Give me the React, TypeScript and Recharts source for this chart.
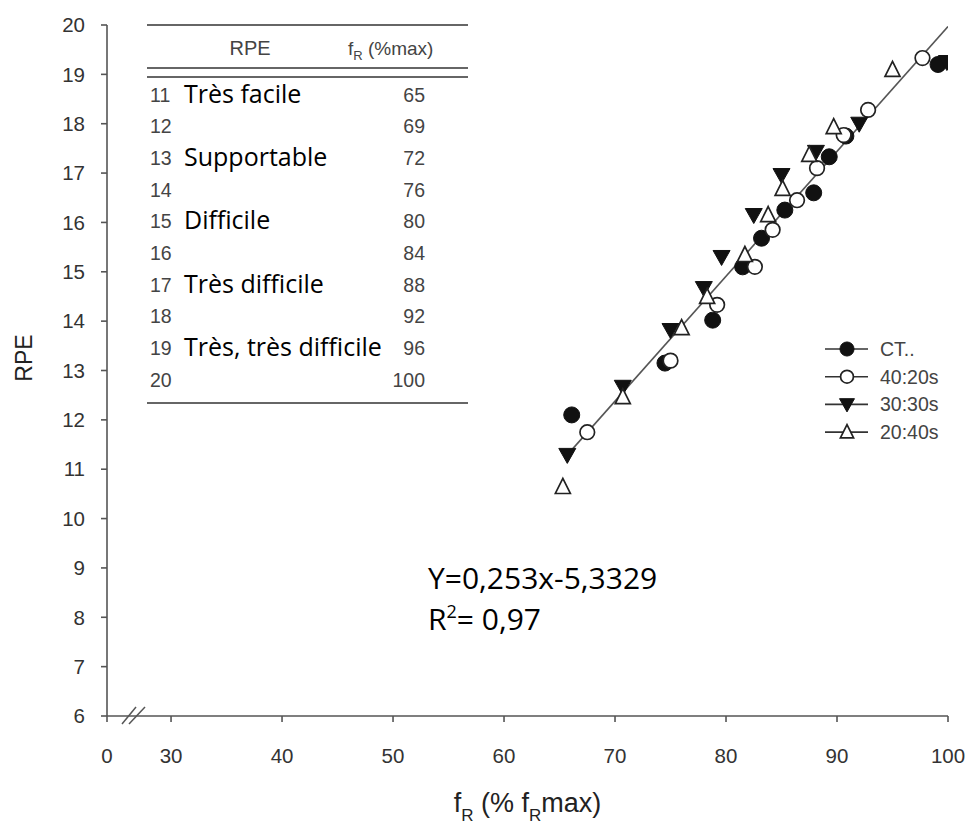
import React from 'react';
import { ScatterChart, Scatter, XAxis, YAxis, Legend } from 'recharts';

// ---- data ----
const seriesNames = ['CT..', '40:20s', '30:30s', '20:40s'];

const ctX = [66.1, 74.5, 78.8, 81.5, 83.2, 85.3, 87.9, 89.3, 90.8, 99.1];
const ctY = [12.1, 13.15, 14.02, 15.1, 15.68, 16.25, 16.6, 17.33, 17.75, 19.2];

const s4020X = [67.5, 75.0, 79.2, 82.6, 84.2, 86.4, 88.2, 90.6, 92.8, 97.7];
const s4020Y = [11.75, 13.2, 14.33, 15.1, 15.85, 16.45, 17.1, 17.77, 18.28, 19.33];

const s3030X = [65.7, 70.7, 75.0, 78.0, 79.6, 82.5, 85.0, 88.1, 92.0, 99.9];
const s3030Y = [11.29, 12.67, 13.82, 14.67, 15.3, 16.15, 16.96, 17.43, 18.0, 19.25];

const s2040X = [65.3, 70.7, 76.0, 78.3, 81.7, 83.8, 85.1, 87.5, 89.7, 95.0];
const s2040Y = [10.64, 12.46, 13.86, 14.49, 15.34, 16.15, 16.68, 17.37, 17.93, 19.09];

const regressionX = [65.5, 100];
const regressionY = [11.24, 19.97];

const xAxisStart = 24.23; // broken-axis origin, labelled "0"
const xTicks = [xAxisStart, 30, 40, 50, 60, 70, 80, 90, 100];
const yTicks = [6, 7, 8, 9, 10, 11, 12, 13, 14, 15, 16, 17, 18, 19, 20];

const tableRpe = [11, 12, 13, 14, 15, 16, 17, 18, 19, 20];
const tableLabels = ['Très facile', '', 'Supportable', '', 'Difficile', '', 'Très difficile', '', 'Très, très difficile', ''];
const tableFr = [65, 69, 72, 76, 80, 84, 88, 92, 96, 100];

const equationText = 'Y=0,253x-5,3329';
const r2Value = '= 0,97';

// ---- helpers ----
const toPoints = (xs: number[], ys: number[]) => xs.map((x, i) => ({ x, y: ys[i] }));

const ctData = toPoints(ctX, ctY);
const s4020Data = toPoints(s4020X, s4020Y);
const s3030Data = toPoints(s3030X, s3030Y);
const s2040Data = toPoints(s2040X, s2040Y);
const regressionData = toPoints(regressionX, regressionY);

const ARIAL = '"Liberation Sans", Arial, sans-serif';
const CAL = '"Open Sans", sans-serif';
const INK = '#111';

const drawMarker = (kind: number, cx: number, cy: number, s = 1) => {
  if (kind === 0) return <circle cx={cx} cy={cy} r={8 * s} fill={INK} stroke={INK} strokeWidth={1} />;
  if (kind === 1) return <circle cx={cx} cy={cy} r={7.3 * s} fill="#fff" stroke="#222" strokeWidth={1.7} />;
  if (kind === 2) {
    const w = 8.5 * s, h1 = 6.5 * s, h2 = 8.5 * s;
    return <path d={`M${cx - w},${cy - h1} L${cx + w},${cy - h1} L${cx},${cy + h2} Z`} fill={INK} stroke={INK} strokeWidth={1} />;
  }
  const w = 7.5 * s, h1 = 8.5 * s, h2 = 6.5 * s;
  return <path d={`M${cx},${cy - h1} L${cx + w},${cy + h2} L${cx - w},${cy + h2} Z`} fill="#fff" stroke="#222" strokeWidth={1.7} />;
};

const shapeFor = (kind: number) => (p: any) => drawMarker(kind, p.cx, p.cy);

const XTick = (props: any) => {
  const { x, y, payload } = props;
  const isOrigin = payload.value < 30;
  const axisY = y - 32;
  return (
    <g>
      <text x={x} y={y} dy="0.71em" textAnchor="middle" fontSize={20.5} fill="#333" fontFamily={ARIAL}>
        {isOrigin ? '0' : String(payload.value)}
      </text>
      {isOrigin && (
        <g stroke="#555" strokeWidth={1.5}>
          <line x1={x + 15} y1={axisY + 8} x2={x + 29} y2={axisY - 9} />
          <line x1={x + 22} y1={axisY + 8} x2={x + 38} y2={axisY - 9} />
        </g>
      )}
    </g>
  );
};

const XLabel = (props: any) => {
  const vb = props.viewBox || {};
  const cx = vb.x + vb.width / 2;
  return (
    <text x={cx} y={812} textAnchor="middle" fontSize={27} fill="#222" fontFamily={ARIAL}>
      f<tspan fontSize={17} dy={9}>R</tspan>
      <tspan dy={-9}> (% f</tspan>
      <tspan fontSize={17} dy={9}>R</tspan>
      <tspan dy={-9}>max)</tspan>
    </text>
  );
};

const YLabel = () => (
  <text x={32} y={358} transform="rotate(-90 32 358)" textAnchor="middle" fontSize={23} fill="#222" fontFamily={ARIAL}>
    RPE
  </text>
);

const LegendContent = () => (
  <svg width={140} height={120} style={{ overflow: 'visible' }}>
    {seriesNames.map((n, i) => (
      <g key={n} transform={`translate(0, ${12 + i * 27.7})`}>
        <line x1={2} x2={45} y1={0} y2={0} stroke="#333" strokeWidth={1.6} />
        {drawMarker(i, 24, 0, 0.88)}
        <text x={57} y={0} dy="0.35em" fontSize={19.5} fill="#444" fontFamily={ARIAL}>{n}</text>
      </g>
    ))}
  </svg>
);

const TableOverlay = () => {
  const rowY0 = 95;
  const rowStep = 31.65;
  return (
    <svg width={971} height={832} style={{ position: 'absolute', left: 0, top: 0, pointerEvents: 'none' }}>
      <g stroke="#666" strokeWidth={2.2}>
        <line x1={147} x2={468} y1={25} y2={25} />
        <line x1={147} x2={468} y1={68} y2={68} />
        <line x1={147} x2={468} y1={77} y2={77} />
        <line x1={147} x2={468} y1={403} y2={403} />
      </g>
      <text x={250} y={48} dy="0.35em" textAnchor="middle" fontSize={20} fill="#444" fontFamily={ARIAL}>RPE</text>
      <text x={348} y={48} dy="0.35em" fontSize={19} fill="#444" fontFamily={ARIAL}>
        f<tspan fontSize={13} dy={5}>R</tspan><tspan dy={-5}> (%max)</tspan>
      </text>
      {tableRpe.map((r, i) => (
        <g key={r}>
          <text x={150} y={rowY0 + i * rowStep} dy="0.35em" fontSize={19.5} fill="#444" fontFamily={ARIAL}>{r}</text>
          {tableLabels[i] && (
            <text x={184} y={rowY0 + i * rowStep - 1} dy="0.35em" fontSize={25} fill="#000" fontFamily={CAL}>
              {tableLabels[i]}
            </text>
          )}
          <text x={425} y={rowY0 + i * rowStep} dy="0.35em" textAnchor="end" fontSize={19.5} fill="#444" fontFamily={ARIAL}>
            {tableFr[i]}
          </text>
        </g>
      ))}
      <text x={428} y={589} fontSize={30} fill="#000" fontFamily={CAL}>{equationText}</text>
      <text x={428} y={630} fontSize={30} fill="#000" fontFamily={CAL}>
        R<tspan fontSize={18} dy={-12}>2</tspan><tspan dy={12}>{r2Value}</tspan>
      </text>
    </svg>
  );
};

export default function App() {
  return (
    <div style={{ position: 'absolute', left: 0, top: 0, width: 971, height: 832, background: '#fff', fontFamily: ARIAL }}>
      <ScatterChart width={971} height={832} margin={{ top: 25, right: 23, bottom: 0, left: 0 }}>
        <XAxis
          type="number"
          dataKey="x"
          domain={[xAxisStart, 100]}
          ticks={xTicks}
          interval={0}
          allowDataOverflow
          height={116}
          stroke="#555"
          strokeWidth={1.6}
          tickSize={6}
          tickMargin={26}
          tick={<XTick />}
          label={<XLabel />}
        />
        <YAxis
          type="number"
          dataKey="y"
          domain={[6, 20]}
          ticks={yTicks}
          interval={0}
          allowDataOverflow
          width={107}
          stroke="#555"
          strokeWidth={1.6}
          tickSize={6}
          tickMargin={16}
          tick={{ fontSize: 20.5, fill: '#333', fontFamily: ARIAL }}
          label={<YLabel />}
        />
        <Legend
          layout="vertical"
          align="center"
          verticalAlign="middle"
          content={<LegendContent />}
          wrapperStyle={{ position: 'absolute', left: 823, top: 337, width: 140, height: 120 }}
        />
        <Scatter
          name="fit"
          data={regressionData}
          line={{ stroke: '#555', strokeWidth: 1.6 }}
          shape={() => <g />}
          legendType="none"
          isAnimationActive={false}
        />
        <Scatter name={seriesNames[0]} data={ctData} shape={shapeFor(0)} isAnimationActive={false} />
        <Scatter name={seriesNames[1]} data={s4020Data} shape={shapeFor(1)} isAnimationActive={false} />
        <Scatter name={seriesNames[2]} data={s3030Data} shape={shapeFor(2)} isAnimationActive={false} />
        <Scatter name={seriesNames[3]} data={s2040Data} shape={shapeFor(3)} isAnimationActive={false} />
      </ScatterChart>
      <TableOverlay />
    </div>
  );
}
